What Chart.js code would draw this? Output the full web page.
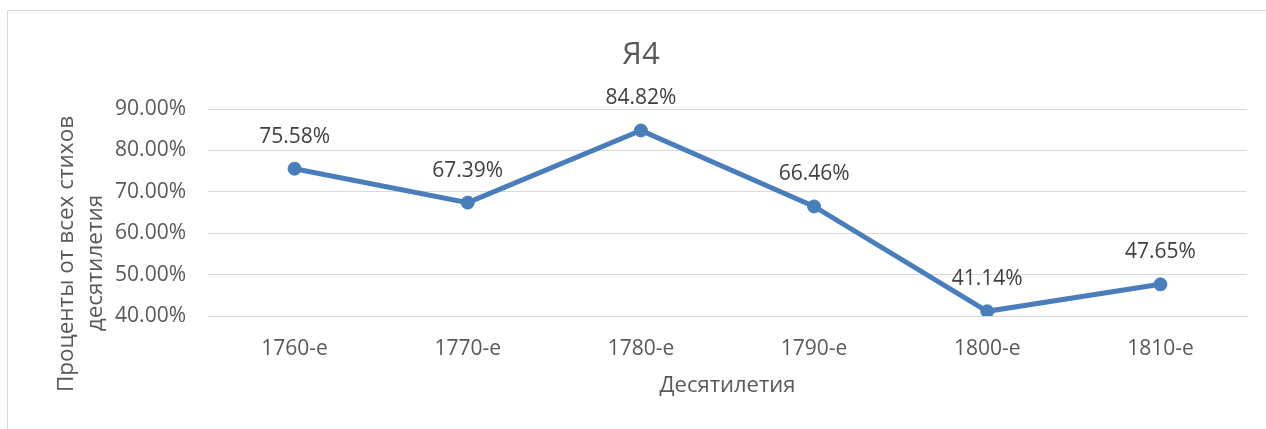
<!DOCTYPE html>
<html>
<head>
<meta charset="utf-8">
<script src="https://cdn.jsdelivr.net/npm/chart.js@4"></script>
<style>
  html, body { margin: 0; padding: 0; background: #fff; overflow: hidden; }
  #frame { position: absolute; left: 7px; top: 10px; width: 1300px; height: 450px; border: 1px solid #d9d9d9; }
  #chart { position: absolute; left: 0; top: 0; }
</style>
</head>
<body>
<div id="frame"></div>
<canvas id="chart" width="1266" height="429"></canvas>
<script>
// данные
const decades = ['1760-е', '1770-е', '1780-е', '1790-е', '1800-е', '1810-е'];
const shares = [75.58, 67.39, 84.82, 66.46, 41.14, 47.65];
const yTicks = [40, 50, 60, 70, 80, 90];

const chartTitle = 'Я4';
const xTitle = 'Десятилетия';
const yTitle = ['Проценты от всех стихов', 'десятилетия'];

const FONT = '"Open Sans", "Noto Sans", sans-serif';

// подписи значений и заголовки
const textPlugin = {
  id: 'texts',
  afterDatasetsDraw(chart) {
    const ctx = chart.ctx;
    const meta = chart.getDatasetMeta(0);
    ctx.save();
    ctx.fillStyle = '#404040';
    ctx.font = '21px ' + FONT;
    ctx.textAlign = 'center';
    ctx.textBaseline = 'middle';
    meta.data.forEach(function(pt, i) {
      ctx.fillText(shares[i].toFixed(2) + '%', pt.x, pt.y - 32);
    });

    ctx.fillStyle = '#595959';
    ctx.font = '31px ' + FONT;
    ctx.fillText(chartTitle, 641, 55);

    ctx.font = '22px ' + FONT;
    const area = chart.chartArea;
    ctx.fillText(xTitle, (area.left + area.right) / 2, 386);

    ctx.font = '22.5px ' + FONT;
    ctx.textBaseline = 'alphabetic';
    ctx.translate(73, 254);
    ctx.rotate(-Math.PI / 2);
    ctx.fillText(yTitle[0], 0, 0);
    ctx.rotate(Math.PI / 2);
    ctx.translate(29, 9);
    ctx.rotate(-Math.PI / 2);
    ctx.fillText(yTitle[1], 0, 0);
    ctx.restore();
  }
};

function draw() {
  new Chart(document.getElementById('chart'), {
    type: 'line',
    data: {
      labels: decades,
      datasets: [{
        data: shares,
        borderColor: '#4a7ebb',
        backgroundColor: '#4a7ebb',
        borderWidth: 5,
        pointRadius: 6.5,
        pointBorderWidth: 1,
        pointBackgroundColor: '#4a7ebb',
        tension: 0
      }]
    },
    options: {
      responsive: false,
      animation: false,
      devicePixelRatio: 1,
      layout: { padding: { top: 109, right: 19, bottom: 0, left: 0 } },
      plugins: { legend: { display: false }, tooltip: { enabled: false }, title: { display: false } },
      scales: {
        x: {
          offset: true,
          grid: { display: false, drawTicks: false },
          border: { display: true, color: '#d9d9d9', width: 1 },
          ticks: { color: '#595959', font: { family: FONT, size: 21 }, padding: 20 },
          afterFit: function(s) { s.height = 113; }
        },
        y: {
          min: yTicks[0],
          max: yTicks[yTicks.length - 1],
          afterBuildTicks: function(s) { s.ticks = yTicks.map(function(v) { return { value: v }; }); },
          grid: { color: '#d9d9d9', lineWidth: 1, drawTicks: false },
          border: { display: false },
          ticks: {
            color: '#595959',
            font: { family: FONT, size: 21 },
            padding: 22,
            callback: function(v) { return v.toFixed(2) + '%'; }
          },
          afterFit: function(s) { s.width = 208; }
        }
      }
    },
    plugins: [textPlugin]
  });
}

document.fonts.load('21px "Open Sans"').then(draw, draw);
</script>
</body>
</html>
